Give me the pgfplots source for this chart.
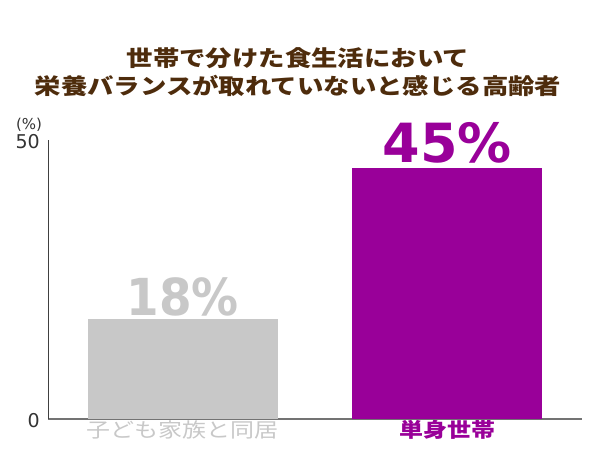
\documentclass[border=0pt]{standalone}
\usepackage{fontspec}
\usepackage{pgfplots}
\pgfplotsset{compat=1.18}
\setmainfont{DejaVu Sans}
\newfontfamily\jp[FakeStretch=1.2]{Noto Sans CJK JP}
\newfontfamily\narrownum[FakeStretch=0.92]{DejaVu Sans}
\definecolor{titlebrown}{HTML}{4E2C0C}
\definecolor{bargray}{HTML}{C8C8C8}
\definecolor{barpurple}{HTML}{990099}
\definecolor{ticktext}{HTML}{333333}

\begin{document}
\begin{tikzpicture}[x=1pt,y=1pt]
\useasboundingbox (0,0) rectangle (600,450);
% title
\node[text=titlebrown, inner sep=0, anchor=center] at (298,392)
  {\jp\bfseries\fontsize{22}{26}\selectfont 世帯で分けた食生活において};
\node[text=titlebrown, inner sep=0, anchor=center] at (298,364)
  {\jp\bfseries\fontsize{22}{26}\selectfont 栄養バランスが取れていないと感じる高齢者};
\node[text=ticktext, inner sep=0, anchor=center] at (29,325)
  {\fontsize{15}{18}\selectfont (\%)};

\begin{axis}[
    at={(48pt,31pt)}, anchor=south west,
    scale only axis, width=534pt, height=279pt,
    xmin=-0.51, xmax=1.51, ymin=0, ymax=50,
    axis lines=left,
    x axis line style={-, draw=black!55, line width=1.6pt},
    y axis line style={-, draw=black!75, line width=1pt},
    major tick length=0pt,
    ytick={0,50},
    yticklabel style={anchor=east, inner sep=0pt, xshift=-8pt, yshift=-2pt,
      text=ticktext, font=\fontsize{19}{22}\selectfont},
    xtick={0,1},
    xticklabels={{\color{bargray}\jp\fontsize{20}{24}\selectfont 子ども家族と同居},
                 {\color{barpurple}\jp\bfseries\fontsize{20}{24}\selectfont 単身世帯}},
    xticklabel style={anchor=center, inner sep=0pt, yshift=-11pt},
    /pgf/number format/assume math mode=true,
    ybar, bar width=190pt, bar shift=0pt,
    nodes near coords={\pgfmathprintnumber{\pgfplotspointmeta}\%},
    clip=false,
  ]
  \addplot[fill=bargray, draw=none,
    nodes near coords style={anchor=base, yshift=3pt, text=bargray,
      font=\narrownum\bfseries\fontsize{51}{56}\selectfont}]
    coordinates {(0,18)};
  \addplot[fill=barpurple, draw=none,
    nodes near coords style={anchor=base, yshift=5pt, text=barpurple,
      font=\bfseries\fontsize{54}{60}\selectfont}]
    coordinates {(1,45)};
\end{axis}
\end{tikzpicture}
\end{document}
